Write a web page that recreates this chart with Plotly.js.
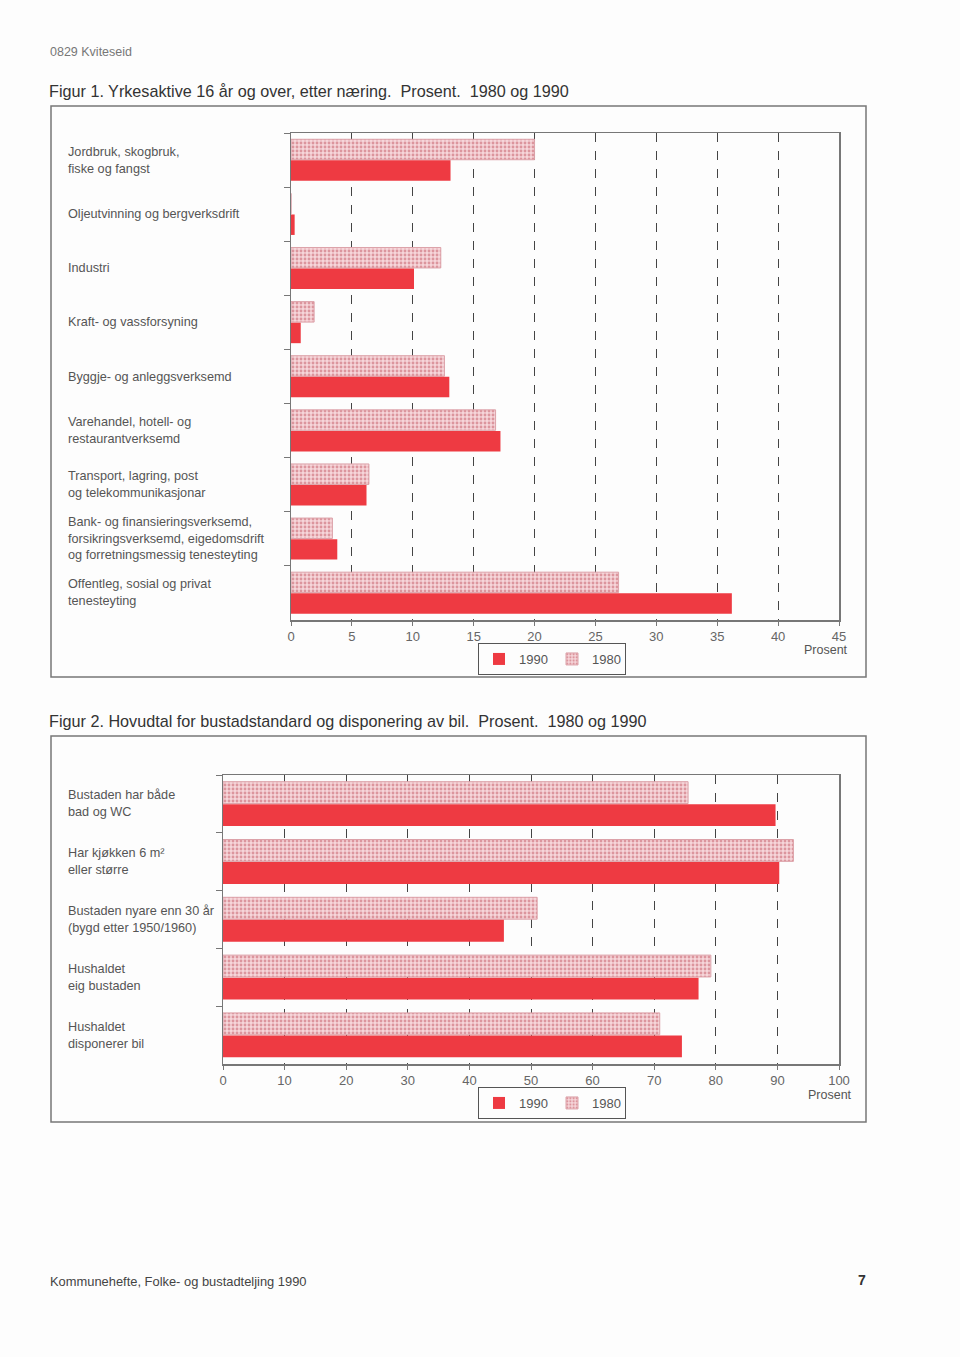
<!DOCTYPE html>
<html>
<head>
<meta charset="utf-8">
<script src="https://cdn.plot.ly/plotly-3.0.1.min.js"></script>
<style>
html,body{margin:0;padding:0;background:#fdfdfd;}
#chart{width:960px;height:1357px;}
</style>
</head>
<body>
<div id="chart"></div>
<script>
// ---- Figur 1 data ----
var categories1 = [
  "Jordbruk, skogbruk,<br>fiske og fangst",
  "Oljeutvinning og bergverksdrift",
  "Industri",
  "Kraft- og vassforsyning",
  "Byggje- og anleggsverksemd",
  "Varehandel, hotell- og<br>restaurantverksemd",
  "Transport, lagring, post<br>og telekommunikasjonar",
  "Bank- og finansieringsverksemd,<br>forsikringsverksemd, eigedomsdrift<br>og forretningsmessig tenesteyting",
  "Offentleg, sosial og privat<br>tenesteyting"
];
var values1990_fig1 = [13.1, 0.3, 10.1, 0.8, 13.0, 17.2, 6.2, 3.8, 36.2];
var values1980_fig1 = [20.0, 0.0, 12.3, 1.9, 12.6, 16.8, 6.4, 3.4, 26.9];

// ---- Figur 2 data ----
var categories2 = [
  "Bustaden har både<br>bad og WC",
  "Har kjøkken 6 m²<br>eller større",
  "Bustaden nyare enn 30 år<br>(bygd etter 1950/1960)",
  "Hushaldet<br>eig bustaden",
  "Hushaldet<br>disponerer bil"
];
var values1990_fig2 = [89.7, 90.3, 45.6, 77.2, 74.5];
var values1980_fig2 = [75.5, 92.6, 51.0, 79.2, 70.9];

var seriesNames = ["1980", "1990"];
var xTicks1 = [0, 5, 10, 15, 20, 25, 30, 35, 40, 45];
var xTicks2 = [0, 10, 20, 30, 40, 50, 60, 70, 80, 90, 100];

// ---- styles ----
var W = 960, H = 1357;
function px(x){ return x / W; }
function py(y){ return 1 - y / H; }
var RED = "#ee3a42";
var FONT = "Liberation Sans, Arial, sans-serif";
var TXT = "#555";
var patt = {shape: ".", bgcolor: "#f6d6da", fgcolor: "#dc959d", size: 4, solidity: 0.4};
var pinkLine = {color: "#dca2a9", width: 1};

var traces = [
  {type: "bar", orientation: "h", name: seriesNames[0], y: categories1, x: values1980_fig1,
   xaxis: "x", yaxis: "y", legend: "legend",
   marker: {color: "#f6d6da", pattern: patt, line: pinkLine}, hoverinfo: "x"},
  {type: "bar", orientation: "h", name: seriesNames[1], y: categories1, x: values1990_fig1,
   xaxis: "x", yaxis: "y", legend: "legend",
   marker: {color: RED, line: {width: 0}}, hoverinfo: "x"},
  {type: "bar", orientation: "h", name: seriesNames[0], y: categories2, x: values1980_fig2,
   xaxis: "x2", yaxis: "y2", legend: "legend2",
   marker: {color: "#f6d6da", pattern: patt, line: pinkLine}, hoverinfo: "x"},
  {type: "bar", orientation: "h", name: seriesNames[1], y: categories2, x: values1990_fig2,
   xaxis: "x2", yaxis: "y2", legend: "legend2",
   marker: {color: RED, line: {width: 0}}, hoverinfo: "x"}
];

function xax(domain, range, ticks){
  return {
    domain: domain, range: range, tickvals: ticks, ticktext: ticks.map(String),
    showgrid: true, griddash: "dash", gridcolor: "#444", gridwidth: 1,
    zeroline: false, showline: true, linecolor: "#777", linewidth: 1.5, mirror: true,
    ticks: "outside", ticklen: 4, tickcolor: "#777",
    tickfont: {family: FONT, size: 13, color: "#666"}, fixedrange: true
  };
}
function yax(domain, anchor){
  return {
    domain: domain, anchor: anchor, type: "category", autorange: "reversed",
    showticklabels: false, showgrid: false, zeroline: false,
    showline: true, linecolor: "#777", linewidth: 1.5, mirror: true,
    ticks: "outside", tickson: "boundaries", ticklen: 6, tickcolor: "#777", fixedrange: true
  };
}

var annotations = [];
function addText(text, x, y, size, color, anchor, extra){
  var a = {text: text, xref: "paper", yref: "paper", x: px(x), y: py(y),
    xanchor: anchor || "left", yanchor: "middle", showarrow: false,
    font: {family: FONT, size: size, color: color}};
  if (extra) for (var k in extra) a[k] = extra[k];
  annotations.push(a);
}
addText("0829 Kviteseid", 48, 52, 12.5, "#777");
addText("Figur 1. Yrkesaktive 16 år og over, etter næring.&nbsp; Prosent.&nbsp; 1980 og 1990", 47, 91, 16.2, "#333");
addText("Figur 2. Hovudtal for bustadstandard og disponering av bil.&nbsp; Prosent.&nbsp; 1980 og 1990", 47, 721, 16.2, "#333");
addText("Prosent", 826, 650, 12.5, TXT, "center");
addText("Prosent", 830, 1095, 12.5, TXT, "center");
addText("Kommunehefte, Folke- og bustadteljing 1990", 48, 1281, 12.9, "#444");
addText("<b>7</b>", 868, 1280, 14, "#333", "right");

categories1.forEach(function(c){
  annotations.push({text: c, xref: "paper", yref: "y", x: px(66), y: c,
    xanchor: "left", yanchor: "middle", align: "left", showarrow: false,
    font: {family: FONT, size: 12.7, color: TXT}});
});
categories2.forEach(function(c){
  annotations.push({text: c, xref: "paper", yref: "y2", x: px(66), y: c,
    xanchor: "left", yanchor: "middle", align: "left", showarrow: false,
    font: {family: FONT, size: 12.7, color: TXT}});
});

var shapes = [
  {type: "rect", xref: "paper", yref: "paper", x0: px(51), x1: px(866), y0: py(106), y1: py(677),
   line: {color: "#777", width: 1.5}},
  {type: "rect", xref: "paper", yref: "paper", x0: px(51), x1: px(866), y0: py(736), y1: py(1122),
   line: {color: "#777", width: 1.5}}
];

function leg(x, y){
  return {orientation: "h", x: px(x), y: py(y), xanchor: "left", yanchor: "top",
    traceorder: "reversed", bordercolor: "#555", borderwidth: 1, bgcolor: "rgba(0,0,0,0)",
    font: {family: FONT, size: 13, color: TXT}, itemwidth: 30,
    entrywidth: 28, entrywidthmode: "pixels",
    itemclick: false, itemdoubleclick: false};
}

var layout = {
  width: W, height: H, margin: {l: 0, r: 0, t: 0, b: 0},
  paper_bgcolor: "#fdfdfd", plot_bgcolor: "rgba(0,0,0,0)",
  barmode: "group", bargap: 0.22, bargroupgap: 0.03,
  font: {family: FONT, color: TXT},
  xaxis: Object.assign(xax([px(291), px(839)], [0, 45], xTicks1), {anchor: "y"}),
  yaxis: yax([py(620), py(133)], "x"),
  xaxis2: Object.assign(xax([px(223), px(839)], [0, 100], xTicks2), {anchor: "y2"}),
  yaxis2: yax([py(1064), py(775)], "x2"),
  legend: leg(478, 643),
  legend2: leg(478, 1087),
  annotations: annotations,
  shapes: shapes,
  showlegend: true
};

Plotly.newPlot("chart", traces, layout, {displayModeBar: false, staticPlot: true});
</script>
</body>
</html>
